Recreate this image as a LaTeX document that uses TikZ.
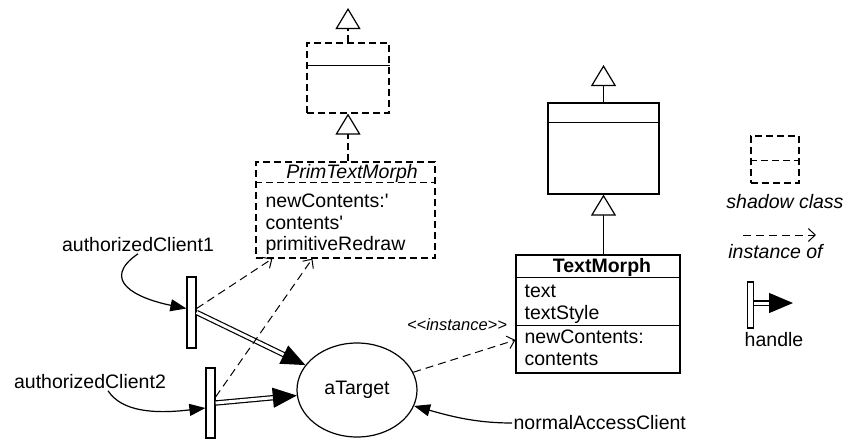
\documentclass[tikz,border=0pt]{standalone}
\usepackage{fontspec}
\setmainfont{Liberation Sans}[Ligatures=TeXOff]
\usetikzlibrary{arrows.meta,shapes.geometric}

\begin{document}
\begin{tikzpicture}[x=1pt,y=-1pt,line width=1.2pt,font=\fontsize{19.5}{22}\selectfont,
  dsh/.style={dash pattern=on 7pt off 4pt},
  cls/.style={draw,inner sep=0pt},
  shadow/.style={cls,dsh},
  gen/.style={-{Triangle[length=21pt,width=25pt,fill=white]}},
  inst/.style={line width=1pt,dash pattern=on 8pt off 5pt,-{Straight Barb[length=7pt,width=13pt]}},
  hdl/.style={draw,fill=white,inner sep=0pt,minimum width=9pt},
  grab/.style={double,double distance=3pt,-{Triangle[length=24pt,width=20pt]}},
  call/.style={-{Triangle[length=16pt,width=12pt]}},
  lbl/.style={inner sep=1pt},
  op/.style={anchor=base west,inner sep=0pt}]
\useasboundingbox (0,0) rectangle (846,439);

\node[shadow,minimum width=82pt,minimum height=70pt] (d1) at (348,78) {};
\node[shadow,minimum width=179pt,minimum height=96pt] (p) at (345.5,210) {};
\node[cls,minimum width=111pt,minimum height=91pt] (u) at (603.5,148.5) {};
\node[cls,minimum width=164pt,minimum height=118pt] (tm) at (598,314) {};

\draw ([yshift=-23pt]d1.north west) -- ([yshift=-23pt]d1.north east);
\draw[dsh] ([yshift=-21pt]p.north west) -- ([yshift=-21pt]p.north east);
\draw ([yshift=-20pt]u.north west) -- ([yshift=-20pt]u.north east);
\draw ([yshift=-23pt]tm.north west) -- ([yshift=-23pt]tm.north east);
\draw ([yshift=-71pt]tm.north west) -- ([yshift=-71pt]tm.north east);

\coordinate (s1) at (348,8);
\coordinate (s2) at (603.5,65);
\draw[dsh,gen] (d1.north) -- (s1);
\draw[dsh,gen] (p.north -| d1.south) -- (d1.south);
\draw[gen] (u.north) -- (s2);
\draw[gen] (tm.north -| u.south) -- (u.south);

\node[font=\itshape\fontsize{19.5}{22}\selectfont] (pn) at (352,173) {PrimTextMorph};
\node[op] (p1) at (265,207) {newContents:'};
\node[op] (p2) at (265,229) {contents'};
\node[op] (p3) at (265,250) {primitiveRedraw};

\node[font=\bfseries\fontsize{19.5}{22}\selectfont] (tn) at (602,267) {TextMorph};
\node[op] (t1) at (524,297) {text};
\node[op] (t2) at (524,319) {textStyle};
\node[op] (t3) at (524,343) {newContents:};
\node[op] (t4) at (524,365) {contents};

\node[draw,ellipse,minimum width=120pt,minimum height=94pt,inner sep=0pt] (tgt) at (357,390) {aTarget};
\node[hdl,minimum height=71pt] (h1) at (191.5,312.5) {};
\node[hdl,minimum height=70pt] (h2) at (210.5,403) {};

\node[lbl] (c1) at (138,245) {authorizedClient1};
\node[lbl] (c2) at (90,382) {authorizedClient2};
\node[lbl,anchor=west] (c3) at (512,423) {normalAccessClient};

\draw[call] (c1.south) .. controls (100,280) and (135,298) .. ([yshift=4pt]h1.west);
\draw[call] ([xshift=18pt]c2.south) .. controls (122,412) and (155,414) .. ([yshift=-5pt]h2.west);
\draw[call] (c3.west) .. controls (475,423) and (450,416) .. (tgt);

\draw[grab] (h1.east) -- (tgt);
\draw[grab] (h2.east) -- (tgt);
\draw[inst] ([yshift=4pt]h1.east) -- ([xshift=17pt]p.south west);
\draw[inst] ([yshift=6pt]h2.east) -- ([xshift=57pt]p.south west);
\draw[inst] (tgt) -- ([yshift=-26pt]tm.west);
\node[font=\itshape\fontsize{16.5}{18}\selectfont] (il) at (457,325) {<{}<instance>{}>};

\node[shadow,minimum width=48pt,minimum height=47pt] (lg) at (775,159.5) {};
\draw[dsh] ([yshift=-25pt]lg.north west) -- ([yshift=-25pt]lg.north east);
\node[font=\itshape\fontsize{19.5}{22}\selectfont] (lg1) at (785,202) {shadow class};
\coordinate (a1) at (743,235);
\coordinate (a2) at (816,235);
\draw[inst] (a1) -- (a2);
\node[font=\itshape\fontsize{19.5}{22}\selectfont] (lg2) at (775.5,252) {instance of};
\node[hdl,minimum width=6pt,minimum height=46pt] (h3) at (750.5,305) {};
\coordinate (a3) at (793,303);
\draw[grab] ([yshift=2pt]h3.east) -- (a3);
\node (lg3) at (774,340) {handle};
\end{tikzpicture}
\end{document}
